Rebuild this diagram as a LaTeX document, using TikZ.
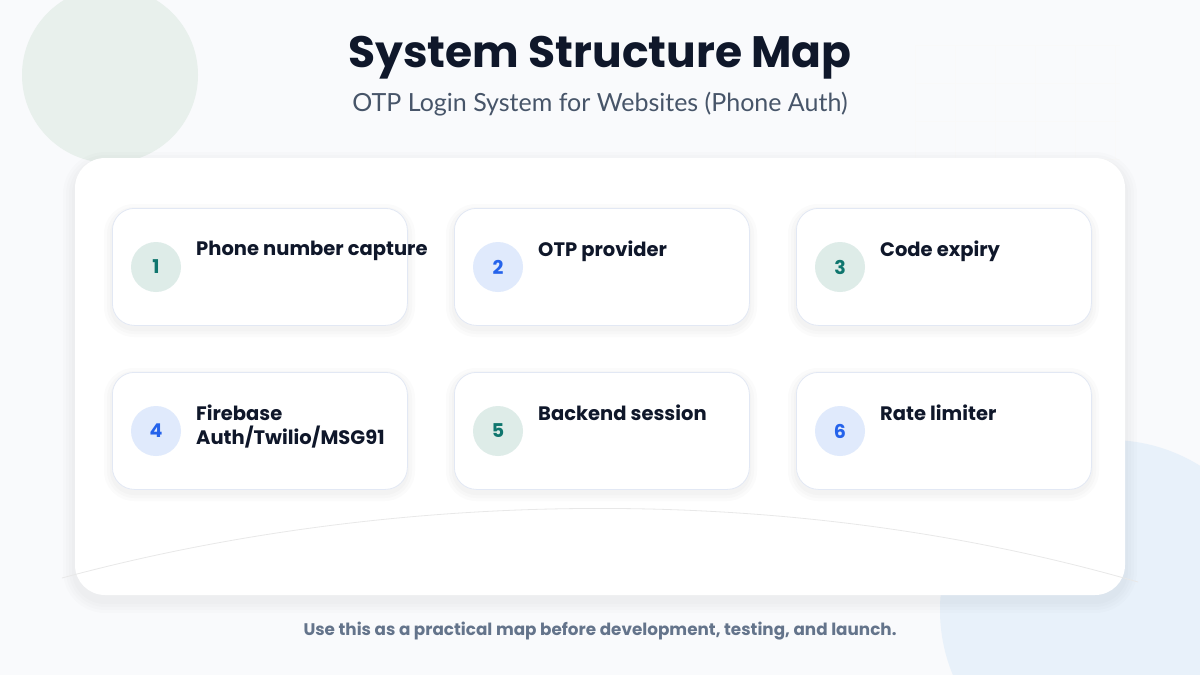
\documentclass[tikz,border=0pt]{standalone}
\usepackage{fontspec}
\setmainfont{Poppins}
\newfontfamily\lato{Lato}
\definecolor{ink}{RGB}{15,23,42}
\definecolor{slate}{RGB}{71,85,105}
\definecolor{foot}{RGB}{100,116,139}
\definecolor{tealbg}{RGB}{222,236,232}
\definecolor{tealfg}{RGB}{15,118,110}
\definecolor{bluebg}{RGB}{224,234,252}
\definecolor{bluefg}{RGB}{37,99,235}
\definecolor{bg}{RGB}{249,250,252}
\definecolor{grn}{RGB}{232,240,236}
\definecolor{blc}{RGB}{232,241,250}
\definecolor{cardline}{RGB}{226,232,244}
\begin{document}
\begin{tikzpicture}[x=1pt,y=-1pt,
  card/.style={draw=cardline,line width=0.8pt,fill=white,rounded corners=22pt,minimum width=295pt,minimum height=117pt,anchor=north west},
  num/.style={circle,minimum size=50pt,inner sep=0pt,font=\bfseries\fontsize{19}{19}\selectfont},
  lab/.style={anchor=north west,align=left,font=\bfseries\fontsize{19.5}{24}\selectfont,text=ink,inner sep=0pt}]
\useasboundingbox (0,0) rectangle (1200,675);
\fill[bg] (0,0) rectangle (1200,675);
\fill[grn] (110,75) circle (88);
\fill[blc] (1110,610) circle (170);
\foreach \i in {0,...,5}{\draw[black!2.5,line width=0.5pt] (915+\i*40,45) -- (915+\i*40,160);}
\foreach \j in {0,...,3}{\draw[black!2.5,line width=0.5pt] (915,45+\j*38) -- (1120,45+\j*38);}
\node[font=\bfseries\fontsize{44}{46}\selectfont,text=ink] (title) at (600,58) {System Structure Map};
\node[font=\lato\fontsize{25}{28}\selectfont,text=slate] (sub) at (600,104) {OTP Login System for Websites (Phone Auth)};
\foreach \k in {12,9,6,3}{\fill[black,opacity=0.012,rounded corners=30pt+\k] (75-\k,158-\k+6) rectangle (1125+\k,595+\k+6);}
\fill[white,rounded corners=30pt] (75,158) rectangle (1125,595);
\draw[black!9,line width=0.8pt] (62,578) .. controls (350,500) and (750,470) .. (1138,582);
\foreach \n/\x/\y/\t/\c/\tc in {
 1/112/208/{Phone number capture}/tealbg/tealfg,
 2/454/208/{OTP provider}/bluebg/bluefg,
 3/796/208/{Code expiry}/tealbg/tealfg,
 4/112/372/{Firebase\\Auth/Twilio/MSG91}/bluebg/bluefg,
 5/454/372/{Backend session}/tealbg/tealfg,
 6/796/372/{Rate limiter}/bluebg/bluefg}{
 \foreach \k in {8,5,2}{\fill[black,opacity=0.015,rounded corners=22pt+\k] (\x-\k,\y-\k+4) rectangle (\x+295+\k,\y+117+\k+4);}
 \node[card] (c\n) at (\x,\y) {};
 \node[num,fill=\c,text=\tc] (n\n) at (\x+44,\y+59) {\n};
 \node[lab] (l\n) at (\x+84,\y+33) {\t};
}
\node[font=\bfseries\fontsize{16.8}{20}\selectfont,text=foot] (foot) at (600,631) {Use this as a practical map before development, testing, and launch.};
\end{tikzpicture}
\end{document}
